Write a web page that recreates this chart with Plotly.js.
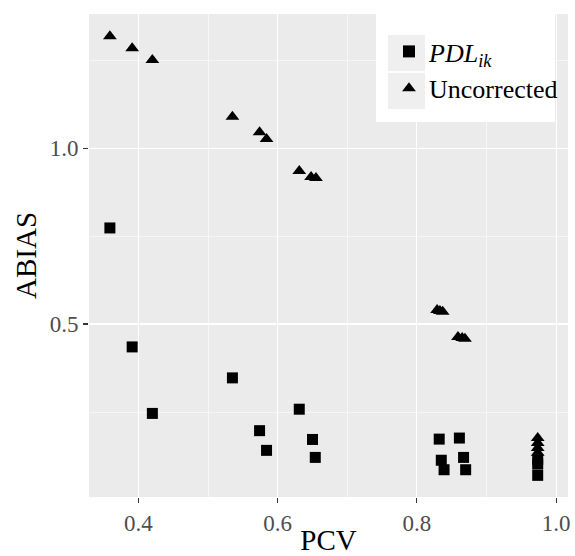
<!DOCTYPE html>
<html>
<head>
<meta charset="utf-8">
<script src="https://cdn.plot.ly/plotly-3.0.1.min.js"></script>
<style>html,body{margin:0;padding:0;background:#fff;}#chart{width:575px;height:556px;}</style>
</head>
<body>
<div id="chart"></div>
<script>
const pdlX = [0.359, 0.391, 0.420, 0.535, 0.574, 0.584, 0.631, 0.650, 0.654, 0.832, 0.835, 0.839, 0.861, 0.867, 0.870, 0.9735, 0.9735, 0.9735];
const pdlY = [0.773, 0.435, 0.246, 0.347, 0.197, 0.141, 0.258, 0.172, 0.121, 0.173, 0.113, 0.086, 0.176, 0.121, 0.086, 0.115, 0.102, 0.070];
const uncX = [0.359, 0.391, 0.420, 0.535, 0.574, 0.584, 0.631, 0.648, 0.655, 0.829, 0.833, 0.837, 0.859, 0.865, 0.869, 0.9735, 0.9735, 0.9735, 0.9735];
const uncY = [1.318, 1.284, 1.250, 1.089, 1.045, 1.026, 0.935, 0.918, 0.915, 0.540, 0.537, 0.535, 0.463, 0.460, 0.458, 0.176, 0.162, 0.148, 0.134];
const xTicks = [0.4, 0.6, 0.8, 1.0];
const xTickText = ['0.4', '0.6', '0.8', '1.0'];
const yTicks = [0.5, 1.0];
const yTickText = ['0.5', '1.0'];
const seriesNames = ['<i>PDL</i><sub><i>ik</i></sub>', 'Uncorrected'];

const font = "'Liberation Serif', 'DejaVu Serif', serif";

const traces = [
  {x: pdlX, y: pdlY, mode: 'markers', type: 'scatter', name: seriesNames[0],
   marker: {symbol: 'square', size: 11, color: '#000'}},
  {x: uncX, y: uncY, mode: 'markers', type: 'scatter', name: seriesNames[1],
   marker: {symbol: 'triangle-up', size: 12, color: '#000'}}
];

// panel pixel geometry helpers (for legend decoration only)
const L = 89, R = 568, T = 14, B = 497;
const px = v => (v - L) / (R - L);
const py = v => 1 - (v - T) / (B - T);

const layout = {
  width: 575, height: 556,
  margin: {l: L, r: 575 - R, t: T, b: 556 - B},
  paper_bgcolor: '#fff',
  plot_bgcolor: '#EBEBEB',
  font: {family: font, color: '#000'},
  showlegend: true,
  legend: {x: px(389), y: py(28), xanchor: 'left', yanchor: 'top', bgcolor: 'rgba(0,0,0,0)',
           font: {family: font, size: 26, color: '#000'}, itemsizing: 'constant',
           tracegroupgap: 0},
  shapes: [
    {type: 'rect', xref: 'paper', yref: 'paper', x0: px(376), x1: px(555), y0: py(122), y1: py(14),
     fillcolor: '#fff', line: {width: 0}, layer: 'above'},
    {type: 'rect', xref: 'paper', yref: 'paper', x0: px(388), x1: px(425), y0: py(71), y1: py(35),
     fillcolor: '#EFEFEF', line: {width: 0}, layer: 'above'},
    {type: 'rect', xref: 'paper', yref: 'paper', x0: px(388), x1: px(425), y0: py(109), y1: py(73),
     fillcolor: '#EFEFEF', line: {width: 0}, layer: 'above'}
  ],
  xaxis: {range: [0.329, 1.017], tickvals: xTicks, ticktext: xTickText,
          showgrid: true, gridcolor: '#fff', gridwidth: 1.1, zeroline: false,
          ticks: 'outside', ticklen: 5, tickcolor: '#333', tickwidth: 1.1,
          tickfont: {family: font, size: 23, color: '#4D4D4D'},
          minor: {tickvals: [0.5, 0.7, 0.9], showgrid: true, gridcolor: '#fff', gridwidth: 0.55, ticks: ''},
          title: {text: 'PCV', font: {family: font, size: 29, color: '#000'}, standoff: 0},
          showline: false, fixedrange: true},
  yaxis: {range: [0.0085, 1.381], tickvals: yTicks, ticktext: yTickText,
          showgrid: true, gridcolor: '#fff', gridwidth: 1.1, zeroline: false,
          ticks: 'outside', ticklen: 5, tickcolor: '#333', tickwidth: 1.1,
          tickfont: {family: font, size: 23, color: '#4D4D4D'},
          minor: {tickvals: [0.25, 0.75, 1.25], showgrid: true, gridcolor: '#fff', gridwidth: 0.55, ticks: ''},
          title: {text: 'ABIAS', font: {family: font, size: 29, color: '#000'}, standoff: 4},
          showline: false, fixedrange: true}
};

Plotly.newPlot('chart', traces, layout, {displayModeBar: false, staticPlot: true});
</script>
</body>
</html>
